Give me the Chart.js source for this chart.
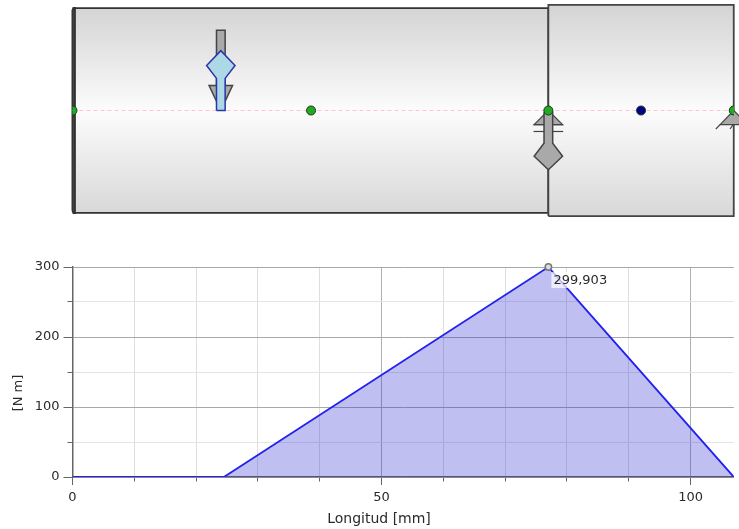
<!DOCTYPE html>
<html lang="es">
<head>
  <meta charset="UTF-8" />
  <title>Momento torsor</title>
  <script src="https://cdn.jsdelivr.net/npm/chart.js"></script>
  <style>
    body { margin: 0; background: #fff; }
    canvas { position: absolute; left: 0; }
    #eje { top: 0; }
    #momento { top: 250px; }
  </style>
</head>
<body>

<canvas id="eje" width="739" height="221"></canvas>
<canvas id="momento" width="739" height="279"></canvas>

<script>
  // Diagrama del momento [mm, N m]
  const longitudes = [0, 24.5, 77, 107];
  const momentos = [0, 0, 299.903, 0];
  const picoX = [77];
  const picoY = [299.903];
  const etiquetaPico = '299,903';
  const ejeXTitulo = 'Longitud [mm]';
  const ejeYTitulo = '[N m]';

  // Eje dibujado en mm: tramos, centro, apoyos y cargas como [x, y]
  const tapa = [[0, -16.2], [0.15, -16.6], [0.4, -16.6], [0.4, 16.6], [0.15, 16.6], [0, 16.2], [0, -16.2]];
  const tramo1 = [[0.4, -16.6], [77, -16.6], [77, 16.6], [0.4, 16.6], [0.4, -16.6]];
  const tramo2 = [[77, -17.1], [107, -17.1], [107, 17.1], [77, 17.1], [77, -17.1]];
  const lineaCentro = [[0, 0], [107, 0]];
  const apoyoArriba = [[24, 0], [22.1, 4.05], [25.9, 4.05], [24, 0]];
  const barraArriba = [[23.3, 4], [23.3, 13], [24.7, 13], [24.7, 4], [23.3, 4]];
  const cargaAzul = [[23.3, 0], [23.3, 5.2], [21.7, 7.3], [24, 9.7], [26.3, 7.3], [24.7, 5.2], [24.7, 0], [23.3, 0]];
  const apoyoCentro = [[77, 0], [74.7, -2.3], [79.3, -2.3], [77, 0]];
  const rayaCentro1 = [[74.6, -2.3], [79.4, -2.3]];
  const rayaCentro2 = [[74.6, -3.4], [79.4, -3.4]];
  const cargaGris = [[76.3, -0.3], [76.3, -5.3], [74.7, -7.4], [77, -9.6], [79.3, -7.4], [77.7, -5.3], [77.7, -0.3], [76.3, -0.3]];
  const apoyoDerecha = [[107, 0], [104.8, -2.3], [109.2, -2.3], [107, 0]];
  const rayaDerecha1 = [[104.8, -2.3], [104.1, -3]];
  const rayaDerecha2 = [[106.9, -2.3], [106.4, -3]];
  const nodosVerdes = [[0, 0], [38.6, 0], [77, 0], [107, 0]];
  const nodosAzules = [[92, 0]];

  Chart.defaults.animation = false;
  Chart.defaults.font.family = '"DejaVu Sans", sans-serif';
  Chart.defaults.font.size = 13;
  Chart.defaults.color = '#2a2a2a';

  const aPuntos = lista => lista.map(p => ({ x: p[0], y: p[1] }));

  function degradado(radio) {
    return c => {
      const { chart } = c;
      if (!chart.chartArea) return '#eee';
      const y = chart.scales.y;
      const g = chart.ctx.createLinearGradient(0, y.getPixelForValue(radio), 0, y.getPixelForValue(-radio));
      g.addColorStop(0, '#d4d4d4');
      g.addColorStop(0.5, '#fcfcfc');
      g.addColorStop(1, '#d8d8d8');
      return g;
    };
  }

  function forma(lista, relleno, borde, ancho) {
    return {
      data: aPuntos(lista),
      showLine: true,
      fill: relleno ? 'shape' : false,
      backgroundColor: relleno,
      borderColor: borde,
      borderWidth: ancho,
      pointRadius: 0,
      clip: false
    };
  }

  function nodos(lista, color, recorte) {
    return {
      data: aPuntos(lista),
      showLine: false,
      pointRadius: 4.5,
      pointBackgroundColor: color,
      pointBorderColor: '#1a3a1a',
      pointBorderWidth: 1,
      clip: recorte
    };
  }

  const gris = '#a9a9a9';
  const bordeGris = '#444';
  const centro = forma(lineaCentro, null, '#ffc4d0', 1);
  centro.borderDash = [4, 3];

  // Orden de pintado: el último de la lista queda encima
  const capasEje = [
    forma(tapa, '#555', '#333', 2),
    forma(tramo1, degradado(16.6), '#333', 1.8),
    forma(tramo2, degradado(17.1), '#444', 1.8),
    centro,
    forma(barraArriba, gris, bordeGris, 1.5),
    forma(apoyoArriba, gris, bordeGris, 1.5),
    forma(cargaAzul, '#add8e6', '#2b35a8', 1.5),
    forma(apoyoCentro, gris, bordeGris, 1.2),
    forma(rayaCentro1, null, bordeGris, 1.2),
    forma(rayaCentro2, null, bordeGris, 1.2),
    forma(cargaGris, gris, bordeGris, 1.5),
    forma(apoyoDerecha, gris, bordeGris, 1.2),
    forma(rayaDerecha1, null, bordeGris, 1.2),
    forma(rayaDerecha2, null, bordeGris, 1.2),
    nodos(nodosAzules, '#00008b', false),
    nodos(nodosVerdes, '#22aa22', { left: 0, top: 5, right: -5, bottom: 5 })
  ];
  capasEje.forEach((d, i) => { d.order = capasEje.length - i; });

  new Chart(document.getElementById('eje'), {
    type: 'scatter',
    data: { datasets: capasEje },
    options: {
      responsive: false,
      layout: { autoPadding: false, padding: { left: 72.5 } },
      plugins: { legend: { display: false }, tooltip: { enabled: false } },
      scales: {
        x: { type: 'linear', display: false, min: 0, max: 107.85 },
        y: { type: 'linear', display: false, min: -17.9, max: 17.9 }
      }
    }
  });

  // Textos que no caen en el centro del eje y la etiqueta del máximo
  const textosMomento = {
    id: 'textosMomento',
    afterDatasetsDraw(chart) {
      const { ctx, scales } = chart;
      const px = scales.x.getPixelForValue(picoX[0]);
      const py = scales.y.getPixelForValue(picoY[0]);
      ctx.save();
      ctx.fillStyle = 'rgba(255,255,255,0.7)';
      ctx.fillRect(px + 3, py + 5, 57, 16);
      ctx.fillStyle = '#2a2a2a';
      ctx.textBaseline = 'middle';
      ctx.textAlign = 'left';
      ctx.fillText(etiquetaPico, px + 5, py + 13.5);
      ctx.textAlign = 'center';
      ctx.font = '14px "DejaVu Sans", sans-serif';
      ctx.fillText(ejeXTitulo, 379, 269);
      ctx.font = '13px "DejaVu Sans", sans-serif';
      ctx.translate(19, 143);
      ctx.rotate(-Math.PI / 2);
      ctx.fillText(ejeYTitulo, 0, 0);
      ctx.restore();
    }
  };

  const esMayor = (valor, paso) => valor % paso === 0;

  new Chart(document.getElementById('momento'), {
    type: 'scatter',
    data: {
      datasets: [
        {
          data: [{ x: picoX[0], y: picoY[0] }],
          pointRadius: 3.2,
          pointBackgroundColor: '#ddd',
          pointBorderColor: '#777',
          pointBorderWidth: 1.5,
          clip: false,
          order: 1
        },
        {
          data: longitudes.map((x, i) => ({ x, y: momentos[i] })),
          showLine: true,
          fill: 'origin',
          backgroundColor: 'rgba(50,50,210,0.31)',
          borderColor: '#2222ee',
          borderWidth: 1.8,
          pointRadius: 0,
          order: 2
        }
      ]
    },
    options: {
      responsive: false,
      layout: { autoPadding: false, padding: { top: 17, right: 5.2 } },
      plugins: { legend: { display: false }, tooltip: { enabled: false } },
      scales: {
        x: {
          type: 'linear',
          min: 0,
          max: 107,
          afterFit(s) { s.height = 52; },
          border: { color: '#666', width: 1.5 },
          grid: {
            color: c => esMayor(c.tick.value, 50) ? '#b0b0b0' : '#dedede',
            tickColor: '#666',
            tickLength: 8,
            tickBorderDash: c => esMayor(c.tick.value, 50) ? [] : [4, 20]
          },
          ticks: {
            stepSize: 10,
            autoSkip: false,
            includeBounds: false,
            maxRotation: 0,
            padding: 5,
            callback: v => esMayor(v, 50) ? v : ''
          }
        },
        y: {
          type: 'linear',
          min: 0,
          max: 300,
          afterFit(s) { s.width = 72.5; },
          border: { color: '#666', width: 1.5 },
          grid: {
            color: c => esMayor(c.tick.value, 100) ? '#a8a8a8' : '#e4e4e4',
            tickColor: '#666',
            tickLength: 9,
            // el trazo del tick arranca en el lado del texto: hueco primero
            tickBorderDash: c => esMayor(c.tick.value, 100) ? [] : [0, 4, 5, 20]
          },
          ticks: {
            stepSize: 50,
            autoSkip: false,
            padding: 4,
            callback: v => esMayor(v, 100) ? v : ''
          }
        }
      }
    },
    plugins: [textosMomento]
  });
</script>

</body>
</html>
